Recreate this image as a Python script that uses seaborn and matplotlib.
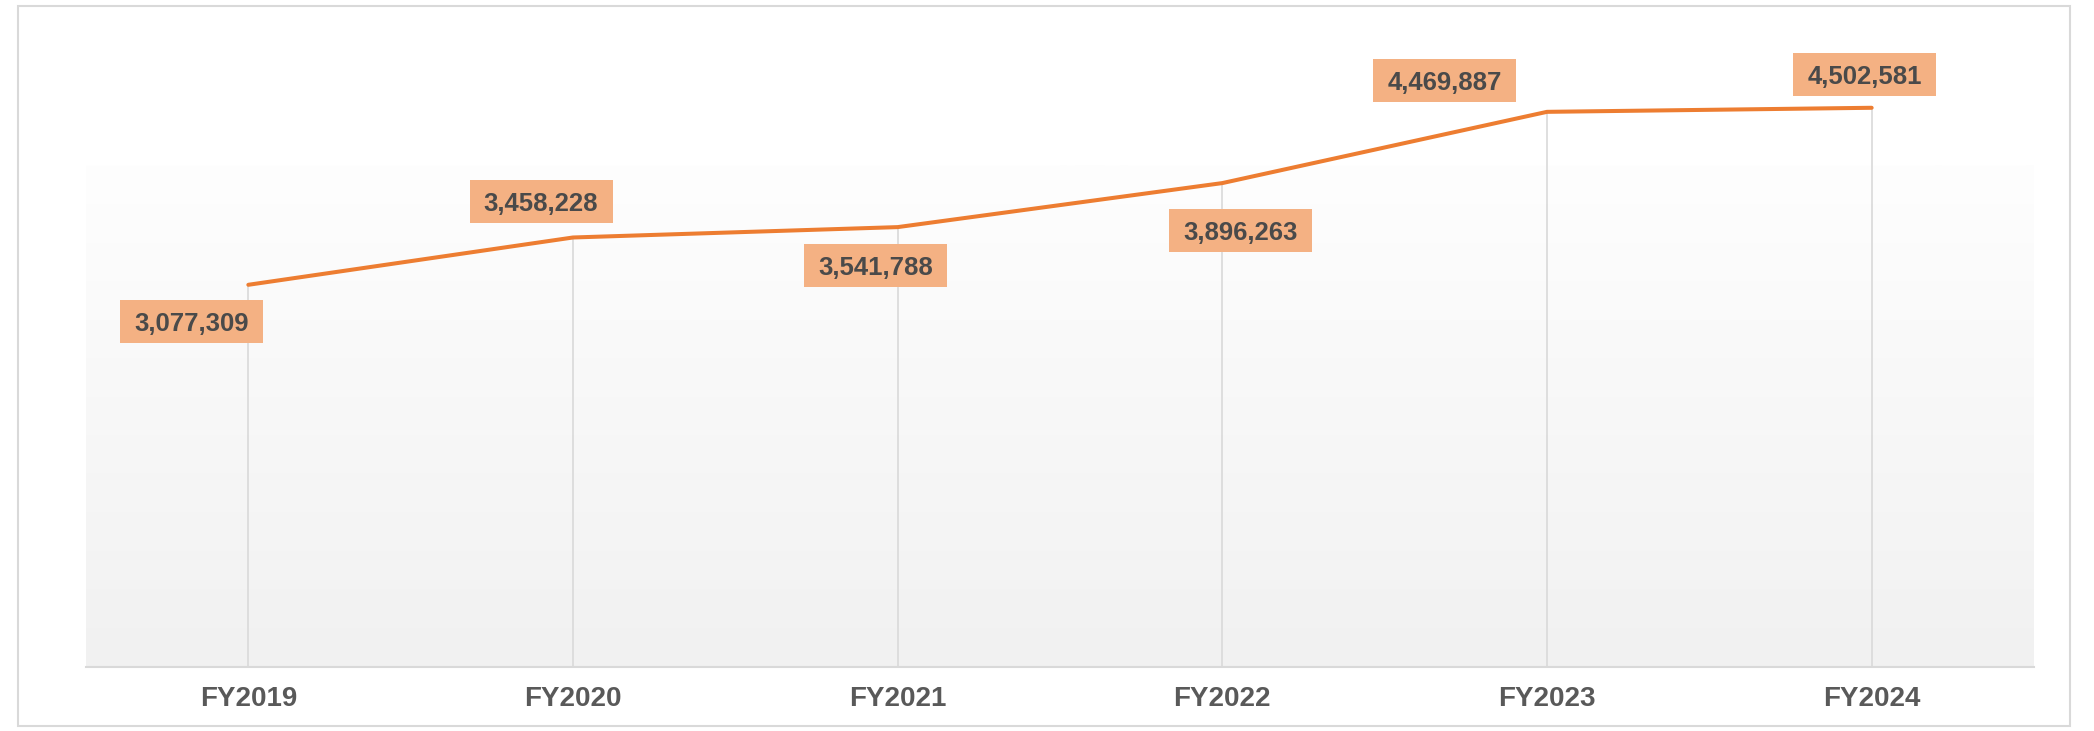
import numpy as np
import pandas as pd
import matplotlib
matplotlib.use("Agg")
import matplotlib.pyplot as plt
import matplotlib.transforms as mtransforms
from matplotlib.patches import Rectangle
import seaborn as sns

# Data
years = ["FY2019", "FY2020", "FY2021", "FY2022", "FY2023", "FY2024"]
values = [3077309, 3458228, 3541788, 3896263, 4469887, 4502581]

# Label placement relative to each point (pixels, y up)
label_dx = [-57, -32, -22, 18, -102, -7]
label_dy = [-37, 36, -38, -47, 31, 33]

LINE_COLOR = "#ed7d31"
BOX_COLOR = "#f4b183"
TEXT_COLOR = "#4a4a4a"
GRID_COLOR = "#d9d9d9"

sns.set_theme(style="white")
plt.rcParams["font.family"] = ["Liberation Sans Narrow", "Liberation Sans", "DejaVu Sans"]

DPI = 100
fig = plt.figure(figsize=(20.94, 7.31), dpi=DPI)
fig.patch.set_facecolor("white")

W, H = 2094, 731
left, right, top, bottom = 86, 2034, 46, 667
ax = fig.add_axes([left / W, 1 - bottom / H, (right - left) / W, (bottom - top) / H])
ax.set_facecolor("white")

df = pd.DataFrame({"year": years, "value": values})
ax.set_xlim(-0.5, len(years) - 0.5)
ax.set_ylim(0, 5_000_000)

# Soft vertical gradient in the lower part of the plot area
grad_top = (bottom - 165) / (bottom - top)
grad = np.linspace(0.0, 1.0, 256).reshape(-1, 1)
cmap = matplotlib.colors.LinearSegmentedColormap.from_list(
    "bg", ["#fefefe", "#f1f1f1"])
ax.imshow(grad, aspect="auto", cmap=cmap, extent=(0, 1, 0, grad_top),
          transform=ax.transAxes, zorder=0, origin="upper")

# Drop lines from each point to the axis
x_pos = np.arange(len(years))
ax.vlines(x_pos, 0, values, colors=GRID_COLOR, linewidth=1.2, zorder=1)

sns.lineplot(data=df, x="year", y="value", ax=ax, color=LINE_COLOR,
             linewidth=2.9, zorder=3, sort=False)
ax.set_xlim(-0.5, len(years) - 0.5)
ax.set_ylim(0, 5_000_000)

# Value labels in filled boxes
box_w, box_h = 143 / DPI, 43 / DPI
for i, v in enumerate(values):
    offset = mtransforms.ScaledTranslation(i, v, ax.transData)
    trans = fig.dpi_scale_trans + offset
    cx, cy = label_dx[i] / DPI, label_dy[i] / DPI
    ax.add_patch(Rectangle((cx - box_w / 2, cy - box_h / 2), box_w, box_h,
                           transform=trans, facecolor=BOX_COLOR,
                           edgecolor="none", zorder=4, clip_on=False))
    ax.text(cx, cy, f"{v:,}", transform=trans, ha="center",
            va="center_baseline", fontsize=18.5, fontweight="bold",
            color=TEXT_COLOR, zorder=5, clip_on=False)

# Axes styling
for side in ["top", "right", "left"]:
    ax.spines[side].set_visible(False)
ax.spines["bottom"].set_color(GRID_COLOR)
ax.spines["bottom"].set_linewidth(1.5)
ax.set_yticks([])
ax.set_xlabel("")
ax.set_ylabel("")
ax.tick_params(axis="x", length=0, pad=14, labelsize=20, labelcolor="#595959")
for lab in ax.get_xticklabels():
    lab.set_fontweight("bold")

# Chart border
fig.patches.append(Rectangle((18 / W, 1 - 726 / H), (2070 - 18) / W, (726 - 6) / H,
                             transform=fig.transFigure, fill=False,
                             edgecolor=GRID_COLOR, linewidth=1.5, zorder=0))

fig.savefig("out.png", dpi=DPI, facecolor="white")
